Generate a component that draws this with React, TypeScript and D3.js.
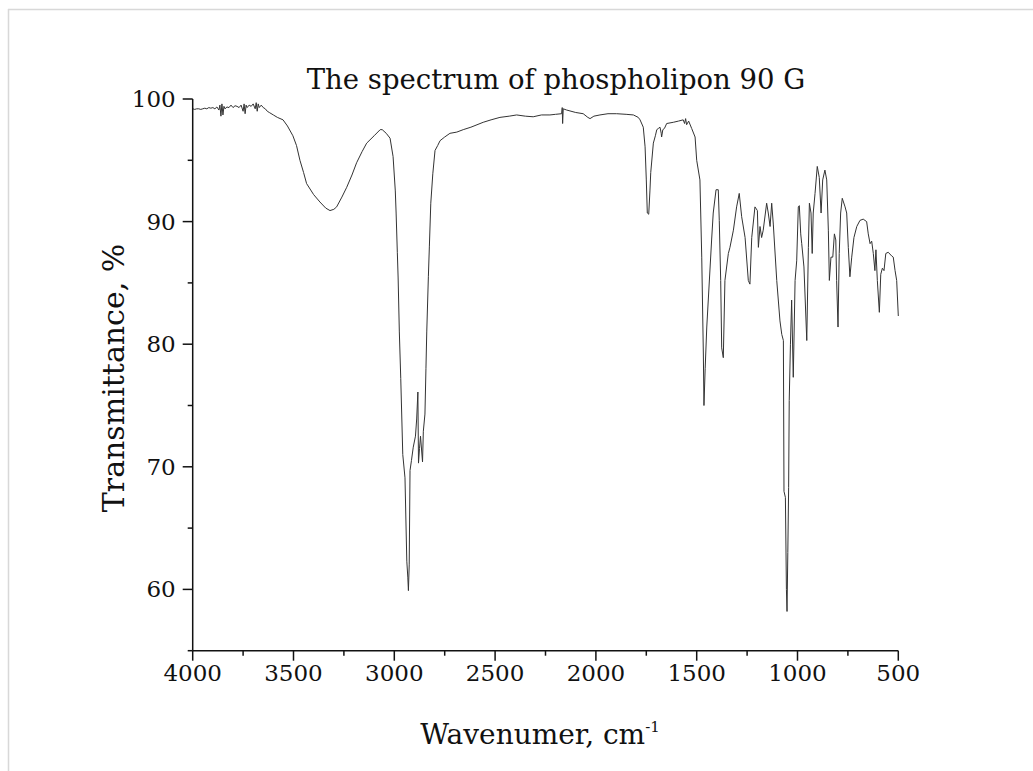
import React from "react";
import * as d3 from "d3";

const chartTitle = "The spectrum of phospholipon 90 G";
const xTicks = [4000, 3500, 3000, 2500, 2000, 1500, 1000, 500];
const xMinorTicks = [3750, 3250, 2750, 2250, 1750, 1250, 750];
const yTicks = [60, 70, 80, 90, 100];
const yMinorTicks = [55, 65, 75, 85, 95];

const wavenumbers = [
  4000, 3990, 3980, 3970, 3960, 3950, 3940, 3930, 3920, 3910, 3900, 3890, 3880, 3870, 3865, 3860, 3855, 3850, 3845, 3840,
  3830, 3820, 3810, 3800, 3790, 3780, 3770, 3760, 3750, 3745, 3740, 3735, 3730, 3720, 3710, 3700, 3690, 3685, 3680, 3675,
  3670, 3660, 3650, 3640, 3630, 3620, 3600, 3580, 3552, 3530, 3503, 3485, 3468, 3450, 3435, 3400, 3369, 3340, 3319, 3300,
  3286, 3260, 3236, 3210, 3187, 3160, 3137, 3100, 3070, 3060, 3040, 3021, 3006, 2995, 2991, 2985, 2981, 2975, 2968, 2958,
  2947, 2938, 2933, 2930, 2926, 2922, 2915, 2906, 2895, 2889, 2883, 2880, 2875, 2870, 2860, 2856, 2848, 2843, 2839, 2831,
  2826, 2819, 2809, 2798, 2785, 2773, 2750, 2724, 2690, 2658, 2620, 2559, 2520, 2476, 2430, 2393, 2350, 2311, 2270, 2228,
  2200, 2170, 2167, 2165, 2162, 2145, 2100, 2063, 2040, 2029, 2010, 1980, 1940, 1897, 1850, 1814, 1790, 1781, 1765, 1756,
  1750, 1745, 1738, 1732, 1728, 1715, 1705, 1698, 1690, 1682, 1676, 1674, 1668, 1660, 1649, 1616, 1590, 1567, 1560, 1555,
  1550, 1540, 1525, 1508, 1500, 1484, 1475, 1467, 1464, 1458, 1450, 1426, 1418, 1404, 1393, 1388, 1381, 1376, 1368, 1360,
  1343, 1335, 1318, 1302, 1289, 1277, 1260, 1244, 1236, 1227, 1211, 1199, 1194, 1186, 1178, 1170, 1153, 1145, 1136, 1128,
  1120, 1103, 1087, 1078, 1070, 1067, 1060, 1055, 1052, 1048, 1044, 1041, 1035, 1029, 1021, 1012, 1004, 996, 991, 984,
  979, 968, 954, 946, 941, 933, 927, 922, 913, 902, 892, 883, 875, 864, 855, 847, 842, 834, 825, 817,
  810, 806, 799, 793, 786, 778, 764, 756, 748, 740, 731, 720, 706, 690, 674, 657, 649, 640, 632, 624,
  616, 611, 604, 594, 587, 579, 571, 562, 550, 533, 525, 516, 508, 500,
];

const transmittance = [
  99.2, 99.15, 99.2, 99.2, 99.15, 99.2, 99.25, 99.2, 99.3, 99.25, 99.3, 99.2, 99.35, 99.1, 99.5, 98.6, 99.6, 98.7, 99.4, 99.2,
  99.35, 99.3, 99.5, 99.3, 99.45, 99.4, 99.3, 99.5, 99.0, 99.6, 98.8, 99.5, 99.3, 99.5, 99.4, 99.6, 99.2, 99.7, 99.0, 99.6,
  99.3, 99.5, 99.3, 99.2, 99.0, 98.9, 98.7, 98.5, 98.3, 97.8, 97.0, 96.2, 95.0, 94.0, 93.1, 92.2, 91.6, 91.1, 90.9, 91.0,
  91.2, 92.0, 92.8, 93.8, 94.8, 95.7, 96.4, 97.0, 97.5, 97.5, 97.2, 96.8, 95.3, 92.5, 90.7, 87.5, 85.4, 81.0, 77.2, 71.0,
  69.1, 62.3, 61.0, 59.9, 62.0, 69.7, 70.5, 71.6, 72.5, 73.9, 76.1, 70.3, 71.5, 72.5, 70.4, 72.9, 74.3, 78.0, 81.0, 85.5,
  88.0, 91.5, 93.9, 95.8, 96.2, 96.6, 96.9, 97.2, 97.3, 97.5, 97.7, 98.1, 98.3, 98.5, 98.6, 98.7, 98.6, 98.55, 98.7, 98.7,
  98.75, 98.8, 99.3, 98.0, 99.2, 99.1, 98.9, 98.8, 98.5, 98.4, 98.6, 98.7, 98.8, 98.8, 98.75, 98.7, 98.5, 98.3, 97.7, 96.1,
  93.4, 90.7, 90.6, 92.5, 94.0, 96.4, 97.0, 97.5, 97.6, 97.7, 97.2, 96.9, 97.5, 97.6, 98.0, 98.1, 98.2, 98.3, 98.0, 98.4,
  97.9, 98.2, 97.6, 96.9, 95.0, 93.4, 87.1, 79.2, 75.0, 78.0, 81.4, 88.5, 90.7, 92.6, 92.6, 90.1, 85.2, 79.7, 78.9, 85.2,
  87.4, 87.9, 89.3, 91.2, 92.3, 90.4, 88.7, 85.2, 84.9, 88.7, 91.2, 90.9, 87.9, 89.6, 88.7, 89.3, 91.5, 90.7, 89.6, 91.5,
  89.8, 85.2, 81.9, 80.8, 80.3, 68.0, 67.5, 60.0, 58.2, 63.0, 68.3, 75.4, 80.0, 83.6, 77.3, 85.2, 86.8, 91.2, 91.3, 89.0,
  88.2, 86.3, 80.3, 87.9, 91.5, 90.7, 87.4, 90.7, 92.3, 94.5, 93.6, 90.7, 93.4, 94.2, 93.4, 89.3, 85.2, 87.1, 87.1, 89.0,
  88.5, 85.2, 81.4, 87.4, 90.7, 91.9, 91.2, 90.7, 87.9, 85.5, 87.1, 88.7, 89.6, 90.1, 90.2, 90.0, 89.0, 88.2, 88.4, 87.4,
  86.0, 87.7, 85.2, 82.6, 85.7, 86.2, 86.0, 87.4, 87.5, 87.2, 87.1, 86.0, 85.2, 82.3,
];

const FONT = "'DejaVu Serif', serif";

export default function App() {
  const width = 1033;
  const height = 771;
  const x = d3.scaleLinear().domain([4000, 500]).range([192.7, 898.3]);
  const y = d3.scaleLinear().domain([55, 100]).range([650.7, 99]);

  const pts: [number, number][] = wavenumbers.map((w, i) => [w, transmittance[i]]);
  const line = d3
    .line<[number, number]>()
    .x((d) => x(d[0]))
    .y((d) => y(d[1]))
    .curve(d3.curveLinear);

  const x0 = x.range()[0];
  const x1 = x.range()[1];
  const y0 = y.range()[0];
  const y1 = y.range()[1];

  return (
    <svg
      width={width}
      height={height}
      style={{ position: "absolute", left: 0, top: 0, background: "#fff" }}
    >
      <rect x={0} y={0} width={width} height={height} fill="#fff" />
      {/* frame */}
      <line x1={8} y1={9.5} x2={width} y2={9.5} stroke="#d8d8d8" strokeWidth={1.5} />
      <line x1={8.5} y1={9} x2={8.5} y2={height} stroke="#d8d8d8" strokeWidth={1.5} />

      <text x={556} y={89} textAnchor="middle" fontFamily={FONT} fontSize={27.5} fill="#111">
        {chartTitle}
      </text>

      {/* spectrum */}
      <path d={line(pts) || ""} fill="none" stroke="#333" strokeWidth={1} strokeLinejoin="miter" />

      {/* axes */}
      <line x1={x0} y1={y0} x2={x1} y2={y0} stroke="#111" strokeWidth={1.5} />
      <line x1={x0} y1={y0} x2={x0} y2={y1} stroke="#111" strokeWidth={1.5} />

      {xTicks.map((t) => (
        <g key={"xt" + t}>
          <line x1={x(t)} x2={x(t)} y1={y0} y2={y0 + 10} stroke="#111" strokeWidth={1.5} />
          <text x={x(t)} y={y0 + 30} textAnchor="middle" fontFamily={FONT} fontSize={23} fill="#111">
            {t}
          </text>
        </g>
      ))}
      {xMinorTicks.map((t) => (
        <line key={"xm" + t} x1={x(t)} x2={x(t)} y1={y0} y2={y0 + 5} stroke="#111" strokeWidth={1.5} />
      ))}
      {yTicks.map((t) => (
        <g key={"yt" + t}>
          <line x1={x0 - 10} x2={x0} y1={y(t)} y2={y(t)} stroke="#111" strokeWidth={1.5} />
          <text x={x0 - 17} y={y(t) + 8} textAnchor="end" fontFamily={FONT} fontSize={23} fill="#111">
            {t}
          </text>
        </g>
      ))}
      {yMinorTicks.map((t) => (
        <line key={"ym" + t} x1={x0 - 5} x2={x0} y1={y(t)} y2={y(t)} stroke="#111" strokeWidth={1.5} />
      ))}

      <text x={540} y={744} textAnchor="middle" fontFamily={FONT} fontSize={28} fill="#111">
        Wavenumer, cm<tspan dy={-12} fontSize={15}>-1</tspan>
      </text>
      <text
        transform={`translate(124, ${378}) rotate(-90)`}
        textAnchor="middle"
        fontFamily={FONT}
        fontSize={30}
        fill="#111"
      >
        Transmittance, %
      </text>
    </svg>
  );
}
